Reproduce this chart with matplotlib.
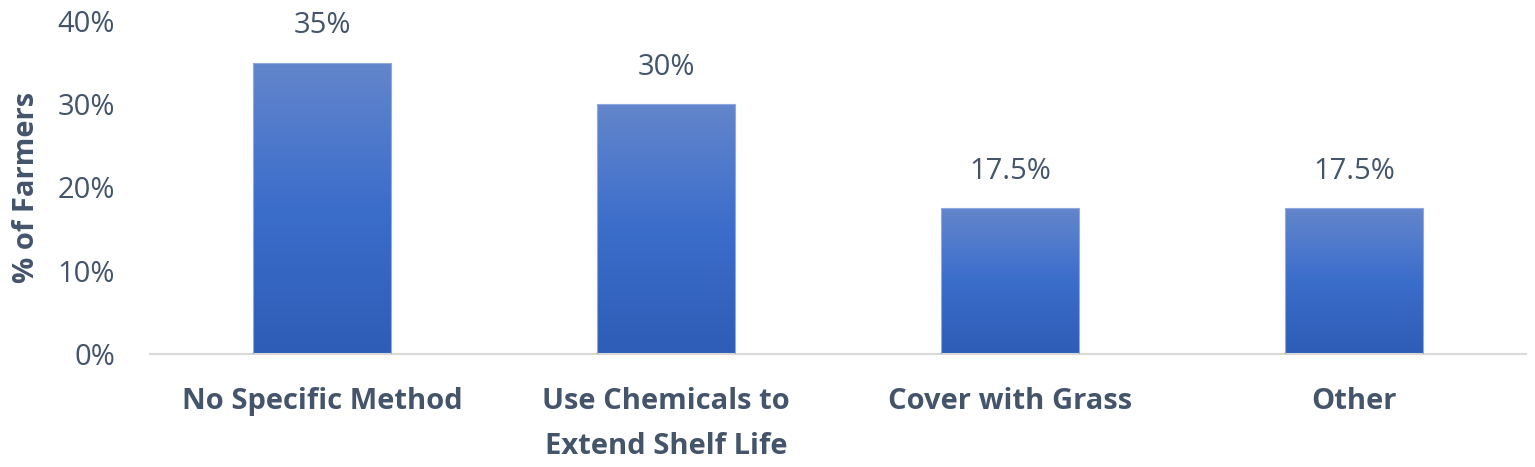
import matplotlib
matplotlib.use("Agg")
import matplotlib.pyplot as plt
import numpy as np
from matplotlib.colors import LinearSegmentedColormap

categories = ["No Specific Method", "Use Chemicals to\nExtend Shelf Life", "Cover with Grass", "Other"]
values = [35, 30, 17.5, 17.5]
value_labels = ["35%", "30%", "17.5%", "17.5%"]
yticks = [0, 10, 20, 30, 40]
ytick_labels = ["0%", "10%", "20%", "30%", "40%"]

TEXT = "#44546a"
plt.rcParams['font.family'] = ['Open Sans', 'DejaVu Sans']
FS = 21

fig = plt.figure(figsize=(15.35, 4.67), dpi=100)
ax = fig.add_axes([150/1535, (467-354)/467, 1376/1535, (354-21)/467])

x = np.arange(len(categories))
bars = ax.bar(x, values, width=0.4, color="none", edgecolor="#8fa9de", linewidth=0.8, zorder=3)

cmap = LinearSegmentedColormap.from_list("g", ["#2d5db6", "#3b6dcb", "#6386cc"])
grad = np.linspace(0, 1, 256).reshape(-1, 1)
for b in bars:
    x0, w, h = b.get_x(), b.get_width(), b.get_height()
    im = ax.imshow(grad, cmap=cmap, origin="lower", aspect="auto",
                   extent=[x0, x0 + w, 0, h], zorder=2)
    im.set_clip_path(b)

for xi, v, lab in zip(x, values, value_labels):
    ax.annotate(lab, (xi, v), xytext=(0, 16), textcoords="offset points",
                ha="center", va="bottom", fontsize=FS, color=TEXT)

ax.set_xlim(-0.5, 3.5)
ax.set_ylim(0, 40)
ax.set_yticks(yticks)
ax.set_yticklabels(ytick_labels, fontsize=FS, color=TEXT)
ax.set_xticks(x)
ax.set_xticklabels(categories, fontsize=FS, color=TEXT, fontweight="bold", linespacing=1.7)
ax.tick_params(axis="both", length=0)
ax.tick_params(axis="x", pad=24)
ax.tick_params(axis="y", pad=25)
for s in ["top", "right", "left"]:
    ax.spines[s].set_visible(False)
ax.spines["bottom"].set_color("#d9d9d9")
ax.spines["bottom"].set_linewidth(1.5)
ax.set_ylabel("% of Farmers", fontsize=FS, color=TEXT, fontweight="bold", labelpad=12)

fig.savefig("out.png", dpi=100)
